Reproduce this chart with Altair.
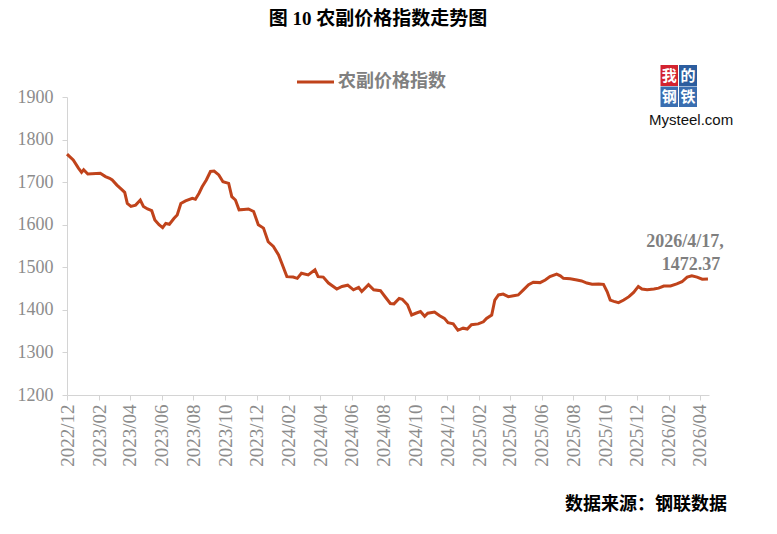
import altair as alt
import pandas as pd

dates = [
    "2022-12-01", "2022-12-13", "2022-12-23", "2022-12-29", "2023-01-02", "2023-01-10",
    "2023-02-03", "2023-02-13", "2023-02-21", "2023-02-26", "2023-03-07", "2023-03-17",
    "2023-03-22", "2023-03-27", "2023-04-03", "2023-04-12", "2023-04-21", "2023-04-27",
    "2023-05-05", "2023-05-13", "2023-05-19", "2023-05-27", "2023-06-03", "2023-06-09",
    "2023-06-16", "2023-06-25", "2023-07-01", "2023-07-08", "2023-07-17", "2023-07-30",
    "2023-08-05", "2023-08-12", "2023-08-18", "2023-08-26", "2023-09-03", "2023-09-10",
    "2023-09-19", "2023-09-27", "2023-10-08", "2023-10-14", "2023-10-21", "2023-10-28",
    "2023-11-06", "2023-11-15", "2023-11-25", "2023-12-04", "2023-12-14", "2023-12-23",
    "2024-01-02", "2024-01-12", "2024-01-18", "2024-01-28", "2024-02-09", "2024-02-17",
    "2024-02-25", "2024-03-09", "2024-03-22", "2024-03-28", "2024-04-07", "2024-04-17",
    "2024-05-03", "2024-05-13", "2024-05-24", "2024-06-04", "2024-06-14", "2024-06-20",
    "2024-07-03", "2024-07-13", "2024-07-26", "2024-08-05", "2024-08-14", "2024-08-21",
    "2024-08-31", "2024-09-06", "2024-09-16", "2024-09-24", "2024-10-02", "2024-10-11",
    "2024-10-19", "2024-10-25", "2024-11-07", "2024-11-17", "2024-11-26", "2024-12-03",
    "2024-12-13", "2024-12-22", "2025-01-01", "2025-01-09", "2025-01-17", "2025-01-30",
    "2025-02-09", "2025-02-15", "2025-02-25", "2025-03-03", "2025-03-10", "2025-03-19",
    "2025-03-29", "2025-04-08", "2025-04-17", "2025-04-27", "2025-05-07", "2025-05-16",
    "2025-05-29", "2025-06-08", "2025-06-17", "2025-06-30", "2025-07-07", "2025-07-13",
    "2025-07-26", "2025-08-08", "2025-08-17", "2025-08-27", "2025-09-06", "2025-09-19",
    "2025-09-28", "2025-10-05", "2025-10-11", "2025-10-18", "2025-10-27", "2025-11-06",
    "2025-11-16", "2025-11-25", "2025-12-04", "2025-12-11", "2025-12-21", "2026-01-03",
    "2026-01-12", "2026-01-22", "2026-02-04", "2026-02-16", "2026-02-26", "2026-03-08",
    "2026-03-17", "2026-03-27", "2026-04-06", "2026-04-17",
]
values = [
    1766, 1752, 1733, 1723, 1729, 1719,
    1721, 1713, 1709, 1705, 1693, 1682,
    1676, 1650, 1643, 1646, 1658, 1643,
    1637, 1633, 1611, 1600, 1593, 1603,
    1601, 1615, 1623, 1650, 1656, 1662,
    1660, 1674, 1689, 1705, 1725, 1726,
    1717, 1701, 1697, 1666, 1658, 1635,
    1636, 1637, 1631, 1600, 1592, 1560,
    1549, 1529, 1510, 1478, 1477, 1474,
    1486, 1482, 1494, 1478, 1477, 1463,
    1449, 1455, 1458, 1447, 1453, 1443,
    1459, 1447, 1445, 1429, 1415, 1414,
    1427, 1425, 1412, 1388, 1392, 1396,
    1385, 1392, 1395, 1386, 1380, 1370,
    1367, 1352, 1357, 1355, 1365, 1367,
    1372, 1380, 1388, 1423, 1435, 1437,
    1431, 1433, 1435, 1447, 1459, 1465,
    1464, 1470, 1478, 1484, 1480, 1474,
    1473, 1470, 1468, 1463, 1460, 1461,
    1460, 1443, 1423, 1420, 1417, 1423,
    1431, 1441, 1455, 1449, 1447, 1449,
    1451, 1456, 1456, 1461, 1466, 1477,
    1480, 1477, 1472, 1472.37,
]
series_name = "农副价格指数"
title_text = "图 10 农副价格指数走势图"
source_text = "数据来源：钢联数据"
annot_date = "2026/4/17,"
annot_value = "1472.37"
y_ticks = [1200, 1300, 1400, 1500, 1600, 1700, 1800, 1900]
x_tick_months = [(2022, 12)] + [(y, m) for y in (2023, 2024, 2025) for m in (2, 4, 6, 8, 10, 12)] + [(2026, 2), (2026, 4)]

df = pd.DataFrame({"date": dates, "value": values})
one = pd.DataFrame({"k": [0]})

LINE = "#C0431B"
GRAY = "#8c8c8c"
SERIF = "Liberation Serif, Noto Sans CJK SC"
CJK = "Liberation Serif, Noto Sans CJK SC"

x_vals = [alt.DateTime(year=y, month=m, date=1, utc=True) for y, m in x_tick_months]

line = alt.Chart(df).mark_line(color=LINE, strokeWidth=3).encode(
    x=alt.X(
        "date:T",
        scale=alt.Scale(
            type="utc",
            domain=[alt.DateTime(year=2022, month=12, date=1, utc=True),
                    alt.DateTime(year=2026, month=4, date=19, utc=True)],
        ),
        axis=alt.Axis(
            title=None, values=x_vals, format="%Y/%m",
            labelAngle=270, labelPadding=4, tickSize=5, labelFontSize=19,
            grid=False, labelFont="Liberation Serif", labelColor=GRAY,
            domainColor="#d4d4d4", tickColor="#d4d4d4",
        ),
    ),
    y=alt.Y(
        "value:Q",
        scale=alt.Scale(domain=[1200, 1900], nice=False, zero=False),
        axis=alt.Axis(
            title=None, values=y_ticks, format="d", tickSize=5, labelPadding=9, labelFontSize=18,
            grid=False, labelFont="Liberation Serif", labelColor=GRAY,
            domainColor="#d4d4d4", tickColor="#d4d4d4",
        ),
    ),
)

def txt(text, x, y, size, color, font, weight="normal", align="center"):
    return alt.Chart(one).mark_text(
        text=text, fontSize=size, color=color, font=font, fontWeight=weight,
        align=align, baseline="middle",
    ).encode(x=alt.value(x), y=alt.value(y))

title = txt(title_text, 311, -78, 19, "#000000", CJK, "bold")
legend_line = alt.Chart(one).mark_rule(color=LINE, strokeWidth=3).encode(
    x=alt.value(230), x2=alt.value(267), y=alt.value(-15)
)
legend_text = txt(series_name, 271, -15, 18, "#808080", CJK, "bold", "left")
ann1 = txt(annot_date, 618, 145, 18, "#7f7f7f", SERIF, "bold")
ann2 = txt(annot_value, 624, 168, 18, "#7f7f7f", SERIF, "bold")
source = txt(source_text, 660, 408, 18, "#000000", CJK, "bold", "right")

logo_boxes = [
    ("我", 593.5, 611, -32, -11, "#d3232f"),
    ("的", 612, 630, -32, -11, "#2c5d9e"),
    ("钢", 593.5, 611, -10.5, 10, "#3a6eb0"),
    ("铁", 612, 630, -10.5, 10, "#3a6eb0"),
]
logo_layers = []
for ch, x1, x2, y1, y2, col in logo_boxes:
    logo_layers.append(
        alt.Chart(one).mark_rect(color=col).encode(
            x=alt.value(x1), x2=alt.value(x2), y=alt.value(y1), y2=alt.value(y2)
        )
    )
    logo_layers.append(txt(ch, (x1 + x2) / 2, (y1 + y2) / 2 + 0.5, 15, "#ffffff", "Noto Sans CJK SC", "bold"))
logo_text = txt("Mysteel.com", 582, 23, 15, "#111111", "Liberation Sans", "normal", "left")

chart = alt.layer(
    line, title, legend_line, legend_text, ann1, ann2, source, *logo_layers, logo_text
).properties(
    width=642, height=298,
    padding={"left": 59, "top": 89, "right": 60, "bottom": 131},
    autosize=alt.AutoSizeParams(type="none"),
    background="white",
).configure_view(stroke=None)

chart.save("out.html", embed_options={"renderer": "svg", "actions": False})
